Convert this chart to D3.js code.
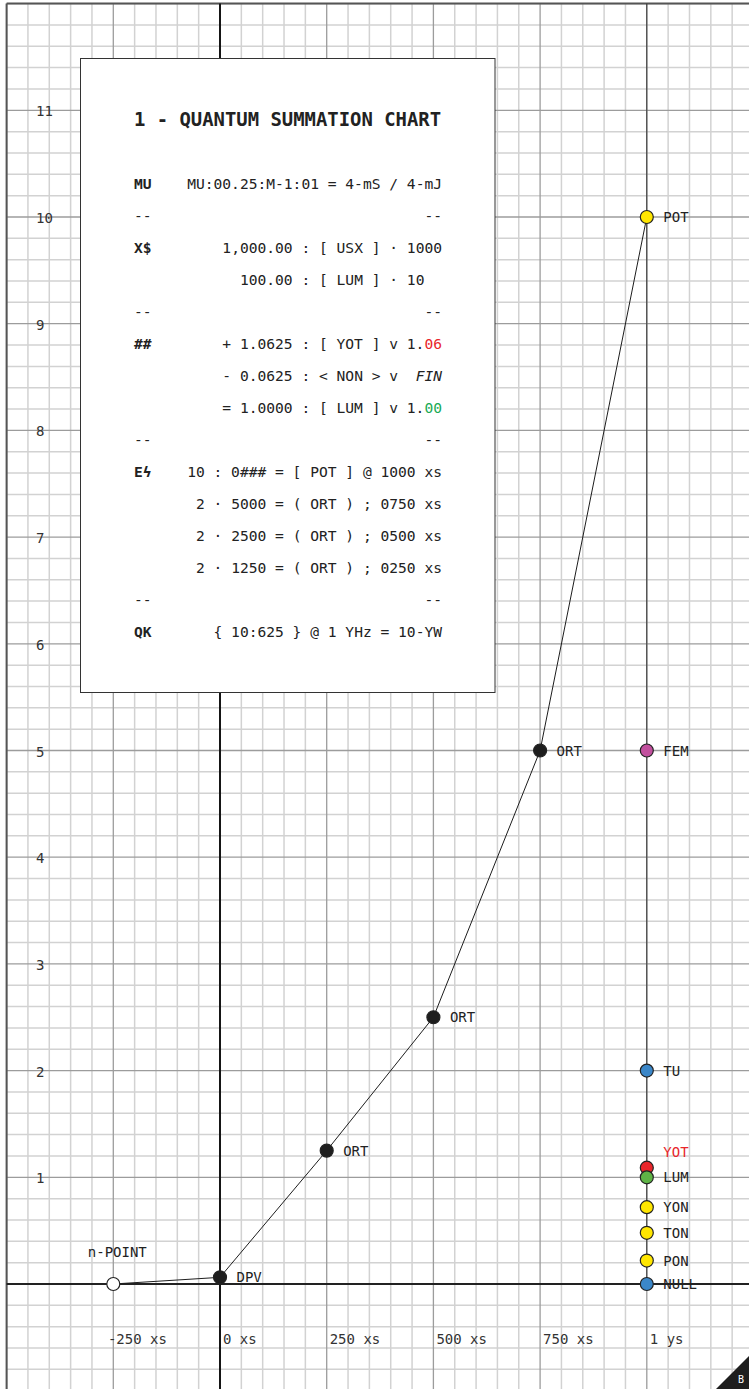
<!DOCTYPE html>
<html>
<head>
<meta charset="utf-8">
<script src="https://cdn.jsdelivr.net/npm/d3@7"></script>
<style>
  body { margin: 0; background: #fff; }
  svg { display: block; }
  text { font-family: "DejaVu Sans Mono", monospace; }
</style>
</head>
<body>
<svg id="chart"></svg>
<script>
// path through the chart (ORT points double each step)
var pathLabels = ["n-POINT", "DPV", "ORT", "ORT", "ORT", "POT"];
var pathX = [-250, 0, 250, 500, 750, 1000];
var pathY = [0, 0.0625, 1.25, 2.5, 5, 10];

// markers on the 1 ys column
var sideLabels = ["FEM", "TU", "YOT", "LUM", "YON", "TON", "PON", "NULL"];
var sideY = [5, 2, 1.09, 1, 0.72, 0.48, 0.22, 0];

var xTicks = [-250, 0, 250, 500, 750, 1000];
var xTickLabels = ["-250 xs", "0 xs", "250 xs", "500 xs", "750 xs", "1 ys"];
var yTicks = [1, 2, 3, 4, 5, 6, 7, 8, 9, 10, 11];

var boxTitle = "1 - QUANTUM SUMMATION CHART";
var boxKeys = ["MU", "--", "X$", "", "--", "##", "", "", "--", "E\u03df", "", "", "", "--", "QK"];
var boxRows = [
  [["MU:00.25:M-1:01 = 4-mS / 4-mJ"]],
  [["--"]],
  [["1,000.00 : [ USX ] \u00b7 1000"]],
  [["100.00 : [ LUM ] \u00b7 10  "]],
  [["--"]],
  [["+ 1.0625 : [ YOT ] v 1."], ["06", "up"]],
  [["- 0.0625 : < NON > v  "], ["FIN", "fin"]],
  [["= 1.0000 : [ LUM ] v 1."], ["00", "even"]],
  [["--"]],
  [["10 : 0### = [ POT ] @ 1000 xs"]],
  [["2 \u00b7 5000 = ( ORT ) ; 0750 xs"]],
  [["2 \u00b7 2500 = ( ORT ) ; 0500 xs"]],
  [["2 \u00b7 1250 = ( ORT ) ; 0250 xs"]],
  [["--"]],
  [["{ 10:625 } @ 1 YHz = 10-YW"]]
];

var width = 749;
var height = 1389;
var unit = 106.7;

var markerFill = {
  "n-POINT": "#ffffff",
  DPV: "#1e1e1e",
  ORT: "#1e1e1e",
  POT: "#ffe600",
  FEM: "#c2509e",
  TU: "#3b87c9",
  YOT: "#e8262b",
  LUM: "#5fb446",
  YON: "#ffe600",
  TON: "#ffe600",
  PON: "#ffe600",
  NULL: "#3b87c9"
};

var svg = d3.select("#chart").attr("width", width).attr("height", height);

var x = d3
  .scaleLinear()
  .domain([-500, 1250])
  .range([6.6, 6.6 + 7 * unit]);

var y = d3
  .scaleLinear()
  .domain([-1, 12])
  .range([1284 + unit, 1284 - 12 * unit]);

// grid
var minorX = d3.range(-500, 1251, 50);
var minorY = d3.range(-5, 61).map(function (d) {
  return d / 5;
});

svg
  .append("g")
  .selectAll("line")
  .data(minorX.filter(function (d) { return d % 250 !== 0; }))
  .enter()
  .append("line")
  .attr("x1", function (d) { return x(d); })
  .attr("x2", function (d) { return x(d); })
  .attr("y1", 0)
  .attr("y2", height)
  .attr("stroke", "#d2d2d2")
  .attr("stroke-width", 1.5);

svg
  .append("g")
  .selectAll("line")
  .data(minorY.filter(function (d) { return Math.round(d * 5) % 5 !== 0; }))
  .enter()
  .append("line")
  .attr("x1", 0)
  .attr("x2", width)
  .attr("y1", function (d) { return y(d); })
  .attr("y2", function (d) { return y(d); })
  .attr("stroke", "#d2d2d2")
  .attr("stroke-width", 1.5);

svg
  .append("g")
  .selectAll("line")
  .data(d3.range(-500, 1251, 250))
  .enter()
  .append("line")
  .attr("x1", function (d) { return x(d); })
  .attr("x2", function (d) { return x(d); })
  .attr("y1", 0)
  .attr("y2", height)
  .attr("stroke", "#9c9c9c")
  .attr("stroke-width", 1.3);

svg
  .append("g")
  .selectAll("line")
  .data(d3.range(-1, 13))
  .enter()
  .append("line")
  .attr("x1", 0)
  .attr("x2", width)
  .attr("y1", function (d) { return y(d); })
  .attr("y2", function (d) { return y(d); })
  .attr("stroke", "#9c9c9c")
  .attr("stroke-width", 1.3);

// paper edges top / left
svg
  .append("rect")
  .attr("x", 0)
  .attr("y", 0)
  .attr("width", x(-500))
  .attr("height", height)
  .attr("fill", "#fff");
svg
  .append("rect")
  .attr("x", 0)
  .attr("y", 0)
  .attr("width", width)
  .attr("height", y(12))
  .attr("fill", "#fff");
svg
  .append("line")
  .attr("x1", x(-500))
  .attr("x2", width)
  .attr("y1", y(12))
  .attr("y2", y(12))
  .attr("stroke", "#555")
  .attr("stroke-width", 2);
svg
  .append("line")
  .attr("x1", x(-500))
  .attr("x2", x(-500))
  .attr("y1", y(12))
  .attr("y2", height)
  .attr("stroke", "#555")
  .attr("stroke-width", 2);

// axes
svg
  .append("line")
  .attr("x1", x(0))
  .attr("x2", x(0))
  .attr("y1", y(12))
  .attr("y2", height)
  .attr("stroke", "#151515")
  .attr("stroke-width", 2);
svg
  .append("line")
  .attr("x1", x(-500))
  .attr("x2", width)
  .attr("y1", y(0))
  .attr("y2", y(0))
  .attr("stroke", "#222")
  .attr("stroke-width", 2);

// 1 ys column
svg
  .append("line")
  .attr("x1", x(1000))
  .attr("x2", x(1000))
  .attr("y1", y(12))
  .attr("y2", y(0))
  .attr("stroke", "#333")
  .attr("stroke-width", 1);

// tick labels
svg
  .append("g")
  .selectAll("text")
  .data(yTicks)
  .enter()
  .append("text")
  .attr("x", 36)
  .attr("y", function (d) { return y(d) + 6; })
  .attr("font-size", 14)
  .attr("fill", "#333")
  .text(function (d) { return d; });

svg
  .append("g")
  .selectAll("text")
  .data(xTicks)
  .enter()
  .append("text")
  .attr("x", function (d) { return x(d) + 3; })
  .attr("dx", function (d) { return d < 0 ? "-0.6em" : 0; })
  .attr("y", y(0) + 60)
  .attr("font-size", 14)
  .attr("fill", "#333")
  .text(function (d, i) { return xTickLabels[i]; });

// info box
var box = svg.append("g");
box
  .append("rect")
  .attr("x", 80.5)
  .attr("y", 58.5)
  .attr("width", 414.5)
  .attr("height", 634)
  .attr("fill", "#fff")
  .attr("stroke", "#333")
  .attr("stroke-width", 1);

box
  .append("text")
  .attr("x", 134)
  .attr("y", 126)
  .attr("font-size", 18.9)
  .attr("font-weight", "bold")
  .attr("fill", "#222")
  .text(boxTitle);

box
  .selectAll(".key")
  .data(boxKeys)
  .enter()
  .append("text")
  .attr("class", "key")
  .attr("x", 134)
  .attr("y", function (d, i) { return 188.5 + i * 32; })
  .attr("font-size", 14.6)
  .attr("font-weight", function (d) { return d === "--" ? "normal" : "bold"; })
  .attr("fill", "#222")
  .text(function (d) { return d; });

var rowText = box
  .selectAll(".row")
  .data(boxRows)
  .enter()
  .append("text")
  .attr("class", "row")
  .attr("x", 442)
  .attr("y", function (d, i) { return 188.5 + i * 32; })
  .attr("text-anchor", "end")
  .attr("font-size", 14.6)
  .attr("fill", "#222")
  .style("white-space", "pre");

rowText
  .selectAll("tspan")
  .data(function (d) { return d; })
  .enter()
  .append("tspan")
  .attr("fill", function (d) {
    if (d[1] === "up") return "#e8262b";
    if (d[1] === "even") return "#1aaa55";
    return "#222";
  })
  .attr("font-style", function (d) { return d[1] === "fin" ? "italic" : "normal"; })
  .text(function (d) { return d[0]; });

// summation path
var pathData = pathX.map(function (d, i) {
  return { label: pathLabels[i], x: d, y: pathY[i] };
});
var sideData = sideLabels.map(function (d, i) {
  return { label: d, x: 1000, y: sideY[i] };
});

svg
  .append("path")
  .datum(pathData)
  .attr("d", d3.line()
    .x(function (d) { return x(d.x); })
    .y(function (d) { return y(d.y); }))
  .attr("fill", "none")
  .attr("stroke", "#1e1e1e")
  .attr("stroke-width", 1);

var markers = pathData.concat(sideData);

svg
  .append("g")
  .selectAll("circle")
  .data(markers)
  .enter()
  .append("circle")
  .attr("cx", function (d) { return x(d.x); })
  .attr("cy", function (d) { return y(d.y); })
  .attr("r", 6.5)
  .attr("fill", function (d) { return markerFill[d.label]; })
  .attr("stroke", "#222")
  .attr("stroke-width", 1.2);

svg
  .append("g")
  .selectAll("text")
  .data(markers)
  .enter()
  .append("text")
  .attr("x", function (d) {
    return d.label === "n-POINT" ? x(d.x) + 4 : x(d.x) + 16.5;
  })
  .attr("y", function (d) {
    if (d.label === "n-POINT") return y(d.y) - 27;
    if (d.label === "YOT") return y(d.y) - 11;
    return y(d.y) + 5;
  })
  .attr("text-anchor", function (d) { return d.label === "n-POINT" ? "middle" : "start"; })
  .attr("font-size", 14)
  .attr("fill", function (d) { return d.label === "YOT" ? "#e8262b" : "#222"; })
  .text(function (d) { return d.label; });

// corner tab
svg
  .append("path")
  .attr("d", "M716," + height + "L" + width + "," + (height - 33) + "L" + width + "," + height + "Z")
  .attr("fill", "#1e1e1e");
svg
  .append("text")
  .attr("x", 741)
  .attr("y", height - 6)
  .attr("text-anchor", "middle")
  .attr("font-family", "'Open Sans', sans-serif")
  .attr("font-size", 10)
  .attr("fill", "#fff")
  .text("B");
</script>
</body>
</html>
